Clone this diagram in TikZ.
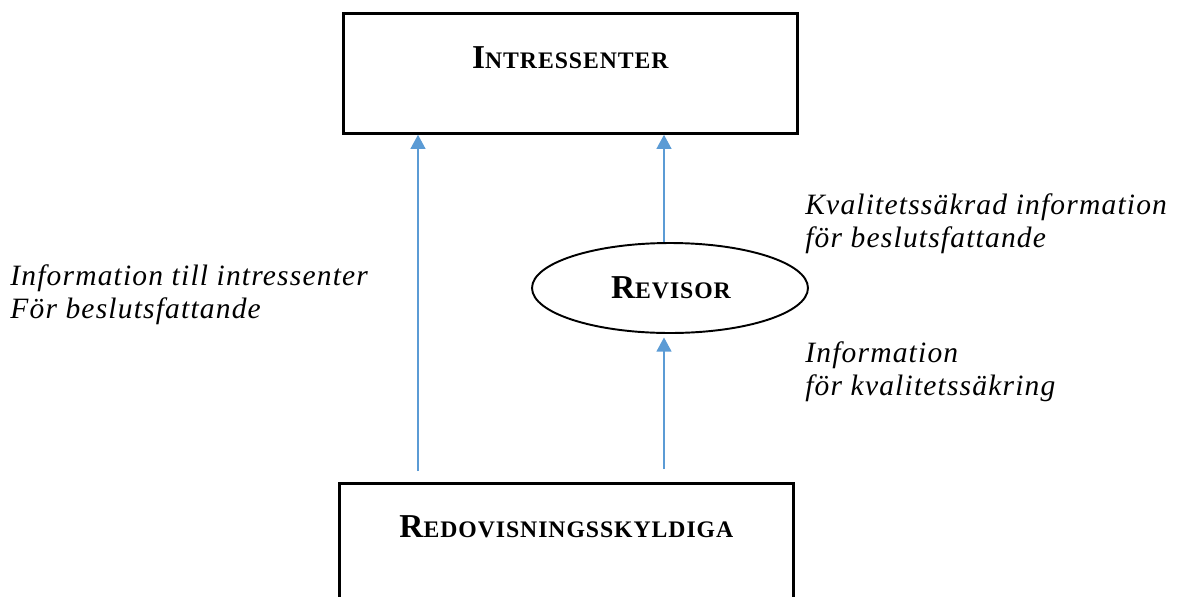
\documentclass[tikz,border=0pt]{standalone}
\usepackage{fontspec}
\setmainfont{Liberation Serif}
\newfontfamily\spacedserif[LetterSpace=4]{Liberation Serif}
\usetikzlibrary{shapes.geometric, arrows.meta, positioning, calc}
\definecolor{flow}{RGB}{91,155,213}
\newcommand{\fakesc}[2]{{\fontsize{19}{19}\selectfont #1}{\fontsize{13.5}{13.5}\selectfont #2}}

\begin{document}
\begin{tikzpicture}[
            x=0.02cm, y=-0.02cm,
            party/.style={draw, line width=1.6pt, rectangle, minimum width=9.08cm, minimum height=2.4cm, anchor=north west},
            role/.style={draw, line width=1.1pt, ellipse, minimum width=5.52cm, minimum height=1.8cm},
            flowarrow/.style={-{Triangle[width=8.5pt, length=8pt]}, flow, line width=0.7pt},
            title/.style={font=\spacedserif\bfseries, anchor=base, inner sep=0pt},
            note/.style={font=\spacedserif\fontsize{16.8}{19}\selectfont\itshape, align=left, anchor=north west, inner sep=0pt},
        ]
            \useasboundingbox (0,0) rectangle (1180,596);

            % Boxes
            \node[party] (intressenter) at (342,12) {};
            \node[title] (intressenter-title) at ($(intressenter.north)+(0,56)$) {\fakesc{I}{NTRESSENTER}};
            \node[party] (redovisning) at (338,482) {};
            \node[title] (redovisning-title) at ($(redovisning.north)+(0,55)$) {\fakesc{R}{EDOVISNINGSSKYLDIGA}};

            % Auditor
            \node[role] (revisor) at (670,288) {};
            \node[title] (revisor-title) at (671,298) {\fakesc{R}{EVISOR}};

            % Arrows
            \coordinate (leftfoot) at (418,471);
            \coordinate (midfoot) at (664,469);
            \draw[flowarrow] (leftfoot) -- (leftfoot |- intressenter.south);
            \draw[flowarrow, shorten >=2pt] (midfoot) -- (midfoot |- revisor.south);
            \draw[flowarrow] (revisor.north -| midfoot) -- (midfoot |- intressenter.south);

            % Labels
            \node[note] (direct-info) at (10,264) {Information till intressenter\\För beslutsfattande};
            \node[note] (quality-info) at (805,193) {Kvalitetssäkrad information\\för beslutsfattande};
            \node[note] (audit-info) at (805,341) {Information\\för kvalitetssäkring};
        \end{tikzpicture}
\end{document}
